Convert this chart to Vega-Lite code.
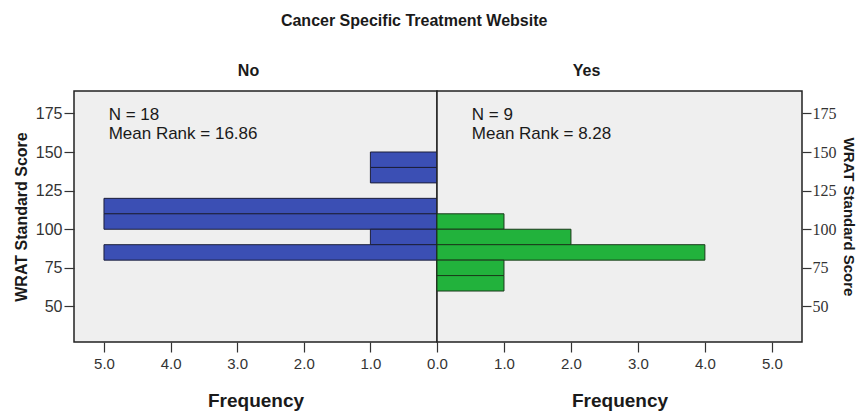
{
  "$schema": "https://vega.github.io/schema/vega-lite/v6.json",
  "background": "white",
  "padding": {"left": 12, "top": 13, "right": 0, "bottom": 0},
  "title": {"text": "Cancer Specific Treatment Website", "font": "Liberation Sans", "fontSize": 16, "fontWeight": "bold", "color": "#1a1a1a", "anchor": "middle", "offset": 33, "dx": -20},
  "datasets": {
    "bars": [
      {"group": "No", "lo": 140, "hi": 150, "count": 1},
      {"group": "No", "lo": 130, "hi": 140, "count": 1},
      {"group": "No", "lo": 110, "hi": 120, "count": 5},
      {"group": "No", "lo": 100, "hi": 110, "count": 5},
      {"group": "No", "lo": 90, "hi": 100, "count": 1},
      {"group": "No", "lo": 80, "hi": 90, "count": 5},
      {"group": "Yes", "lo": 100, "hi": 110, "count": 1},
      {"group": "Yes", "lo": 90, "hi": 100, "count": 2},
      {"group": "Yes", "lo": 80, "hi": 90, "count": 4},
      {"group": "Yes", "lo": 70, "hi": 80, "count": 1},
      {"group": "Yes", "lo": 60, "hi": 70, "count": 1}
    ],
    "stats": [
      {"group": "No", "label": "N = 18\nMean Rank = 16.86"},
      {"group": "Yes", "label": "N = 9\nMean Rank = 8.28"}
    ]
  },
  "spacing": 0,
  "bounds": "flush",
  "hconcat": [
    {
      "width": 363,
      "height": 251,
      "title": {"text": "No", "font": "Liberation Sans", "fontSize": 16, "fontWeight": "bold", "color": "#1a1a1a", "anchor": "middle", "dx": -7, "offset": 12},
      "layer": [
        {
          "data": {"name": "bars"},
          "transform": [{"filter": "datum.group === 'No'"}],
          "mark": {"type": "bar", "fill": "#3b4fb4", "stroke": "#1c1f3a", "strokeWidth": 1, "opacity": 1},
          "encoding": {
            "y": {"field": "lo", "type": "quantitative", "scale": {"domain": [27, 189.5], "nice": false, "zero": false},
              "axis": {"orient": "left", "values": [50, 75, 100, 125, 150, 175], "title": "WRAT Standard Score", "labelFont": "Liberation Sans", "labelFontSize": 16, "tickSize": 10, "labelPadding": 2, "titlePadding": 6}},
            "y2": {"field": "hi"},
            "x": {"field": "count", "type": "quantitative", "scale": {"domain": [0, 5.45], "reverse": true, "nice": false},
              "axis": {"orient": "bottom", "values": [1, 2, 3, 4, 5], "format": ".1f", "title": "Frequency"}},
            "x2": {"datum": 0}
          }
        },
        {
          "data": {"name": "stats"},
          "transform": [{"filter": "datum.group === 'No'"}],
          "mark": {"type": "text", "align": "left", "baseline": "top", "lineBreak": "\n", "font": "Liberation Sans", "fontSize": 17, "lineHeight": 19, "color": "#1a1a1a"},
          "encoding": {
            "text": {"field": "label"},
            "x": {"datum": 4.93},
            "y": {"datum": 179}
          }
        }
      ]
    },
    {
      "width": 365,
      "height": 251,
      "title": {"text": "Yes", "font": "Liberation Sans", "fontSize": 16, "fontWeight": "bold", "color": "#1a1a1a", "anchor": "middle", "dx": -33, "offset": 12},
      "layer": [
        {
          "data": {"name": "bars"},
          "transform": [{"filter": "datum.group === 'Yes'"}],
          "mark": {"type": "bar", "fill": "#22b23c", "stroke": "#1a3a1a", "strokeWidth": 1, "opacity": 1},
          "encoding": {
            "y": {"field": "lo", "type": "quantitative", "scale": {"domain": [27, 189.5], "nice": false, "zero": false},
              "axis": {"orient": "right", "values": [50, 75, 100, 125, 150, 175], "title": "WRAT Standard Score", "labelFont": "Liberation Sans Narrow", "labelFontSize": 16, "tickSize": 9, "labelPadding": 1, "titlePadding": 4, "titleFontSize": 15}},
            "y2": {"field": "hi"},
            "x": {"field": "count", "type": "quantitative", "scale": {"domain": [0, 5.45], "nice": false},
              "axis": {"orient": "bottom", "values": [0, 1, 2, 3, 4, 5], "format": ".1f", "title": "Frequency"}},
            "x2": {"datum": 0}
          }
        },
        {
          "data": {"name": "stats"},
          "transform": [{"filter": "datum.group === 'Yes'"}],
          "mark": {"type": "text", "align": "left", "baseline": "top", "lineBreak": "\n", "font": "Liberation Sans", "fontSize": 17, "lineHeight": 19, "color": "#1a1a1a"},
          "encoding": {
            "text": {"field": "label"},
            "x": {"datum": 0.52},
            "y": {"datum": 179}
          }
        }
      ]
    }
  ],
  "config": {
    "view": {"fill": "#efefef", "stroke": "#222222", "strokeWidth": 1.5},
    "axis": {
      "grid": false,
      "domain": false,
      "labelFlush": false,
      "tickColor": "#333333",
      "tickWidth": 1.2,
      "labelColor": "#333333",
      "titleColor": "#1a1a1a",
      "titleFont": "Liberation Sans",
      "titleFontWeight": "bold",
      "titleFontSize": 16,
      "labelFont": "Liberation Sans",
      "labelFontSize": 15
    },
    "axisX": {"tickSize": 10, "labelPadding": 4, "titlePadding": 20, "titleFontSize": 19}
  }
}
